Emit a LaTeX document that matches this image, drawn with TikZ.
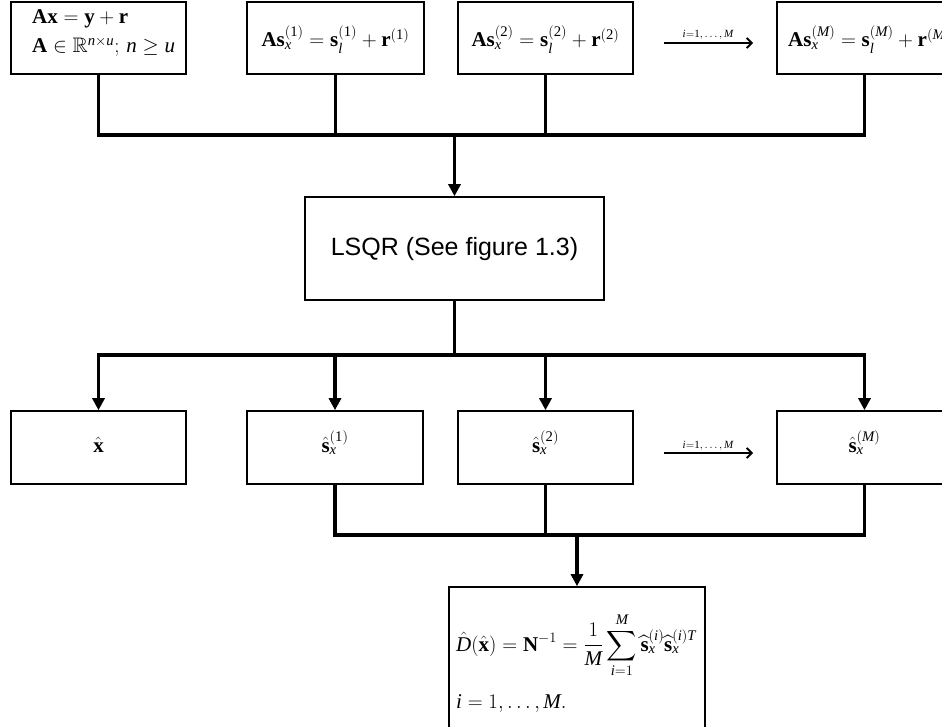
\documentclass[tikz,border=0pt]{standalone}
\usepackage{amsmath,amssymb}
\usepackage{fontspec}
\setmainfont{Liberation Serif}
\newfontfamily\labelsans{Liberation Sans}
\usetikzlibrary{arrows.meta}

% upright bracketed superscripts and italic symbols in the text face
\newcommand\up[1]{\mathrm{(#1)}}
\newcommand\vi[1]{\mathit{#1}}

\tikzset{
  box/.style={draw, line width=1.6pt, inner sep=0pt, minimum width=175pt, minimum height=72pt},
  eq/.style={inner sep=0pt, font=\fontsize{21}{25}\selectfont},
  small/.style={inner sep=0pt, font=\fontsize{11}{13}\selectfont},
  conn/.style={line width=3.4pt},
  arr/.style={conn, -{Triangle[length=12pt,width=12pt]}},
  thinarr/.style={line width=1.8pt, -{Straight Barb[length=5pt,width=10pt]}},
}

\begin{document}
\begin{tikzpicture}[x=1pt, y=-1pt]
\useasboundingbox (0,0) rectangle (942,727);
\clip (0,0) rectangle (942,727);
\fill[white] (0,0) rectangle (942,727);

% top row: systems of equations
\node[box] (b1) at (98.5,38) {};
\node[box, minimum width=177pt] (b2) at (335.5,38) {};
\node[box] (b3) at (545.5,38) {};
\node[box] (b4) at (864.5,38) {};

\node[eq, anchor=base west] (t1a) at (32,24) {$\mathbf{Ax}=\mathbf{y}+\mathbf{r}$};
\node[eq, anchor=base west] (t1b) at (32,53) {$\mathbf{A}\in\mathbb{R}^{\vi{n}\times \vi{u}};\,\vi{n}\geq \vi{u}$};
\node[eq, anchor=base] (t2) at (335.5,47) {$\mathbf{As}_{\vi{x}}^{\up{1}}=\mathbf{s}_{\vi{l}}^{\up{1}}+\mathbf{r}^{\up{1}}$};
\node[eq, anchor=base] (t3) at (545.5,47) {$\mathbf{As}_{\vi{x}}^{\up{2}}=\mathbf{s}_{\vi{l}}^{\up{2}}+\mathbf{r}^{\up{2}}$};
\node[eq, anchor=base west] (t4) at (788,47) {$\mathbf{As}_{\vi{x}}^{(\vi{M})}=\mathbf{s}_{\vi{l}}^{(\vi{M})}+\mathbf{r}^{(\vi{M})}$};

\coordinate (p1s) at (664,43);
\coordinate (p1e) at (753,43);
\draw[thinarr] (p1s) -- (p1e);
\node[small, anchor=base] (l1) at (708,38) {$\vi{i}{=}\mathrm{1},\ldots,\vi{M}$};

% solver
\node[box, minimum width=299pt, minimum height=103pt] (lsqr) at (454.5,248.5) {};
\node[inner sep=0pt, font=\labelsans\fontsize{25}{29}\selectfont] (lt) at (454.5,249) {LSQR (See figure 1.3)};

\coordinate (j1) at (454.5,135);
\draw[conn] (b1.south) |- (j1) -| (b4.south);
\draw[conn] (b2.south) -- (b2.south |- j1);
\draw[conn] (b3.south) -- (b3.south |- j1);
\draw[arr] (j1) -- (lsqr.north);

% bottom row: estimates
\node[box, minimum height=73pt] (c1) at (98.5,447.5) {};
\node[box, minimum height=73pt, minimum width=176pt] (c2) at (335,447.5) {};
\node[box, minimum height=73pt] (c3) at (545.5,447.5) {};
\node[box, minimum height=73pt] (c4) at (864.5,447.5) {};

\node[eq, anchor=base] (u1) at (98.5,452) {$\hat{\mathbf{x}}$};
\node[eq, anchor=base] (u2) at (335,452) {$\hat{\mathbf{s}}_{\vi{x}}^{\up{1}}$};
\node[eq, anchor=base] (u3) at (545.5,452) {$\hat{\mathbf{s}}_{\vi{x}}^{\up{2}}$};
\node[eq, anchor=base] (u4) at (864.5,452) {$\hat{\mathbf{s}}_{\vi{x}}^{(\vi{M})}$};

\coordinate (p2s) at (664,453);
\coordinate (p2e) at (753,453);
\draw[thinarr] (p2s) -- (p2e);
\node[small, anchor=base] (l2) at (708,448) {$\vi{i}{=}\mathrm{1},\ldots,\vi{M}$};

\coordinate (j2) at (454.5,355);
\draw[conn] (lsqr.south) -- (j2);
\draw[arr] (j2) -| (c1.north);
\draw[arr] (j2) -| (c2.north);
\draw[arr] (j2) -| (c3.north);
\draw[arr] (j2) -| (c4.north);

% covariance estimate
\node[box, minimum width=256pt, minimum height=173pt] (D) at (577,673.5) {};
\node[eq, anchor=base west] (d1) at (456,651) {$\displaystyle\hat{\vi{D}}(\hat{\mathbf{x}})=\mathbf{N}^{-1}=\frac{1}{\vi{M}}\sum_{\vi{i}=1}^{\vi{M}}\widehat{\mathbf{s}}_{\vi{x}}^{(\vi{i})}\widehat{\mathbf{s}}_{\vi{x}}^{(\vi{i})\vi{T}}$};
\node[eq, anchor=base west] (d2) at (456,708) {$\vi{i}=1,\ldots,\vi{M}.$};

\coordinate (j3) at (577,535);
\draw[conn] (c2.south) |- (j3) -| (c4.south);
\draw[conn] (c3.south) -- (c3.south |- j3);
\draw[arr] (j3) -- (D.north);
\end{tikzpicture}
\end{document}
